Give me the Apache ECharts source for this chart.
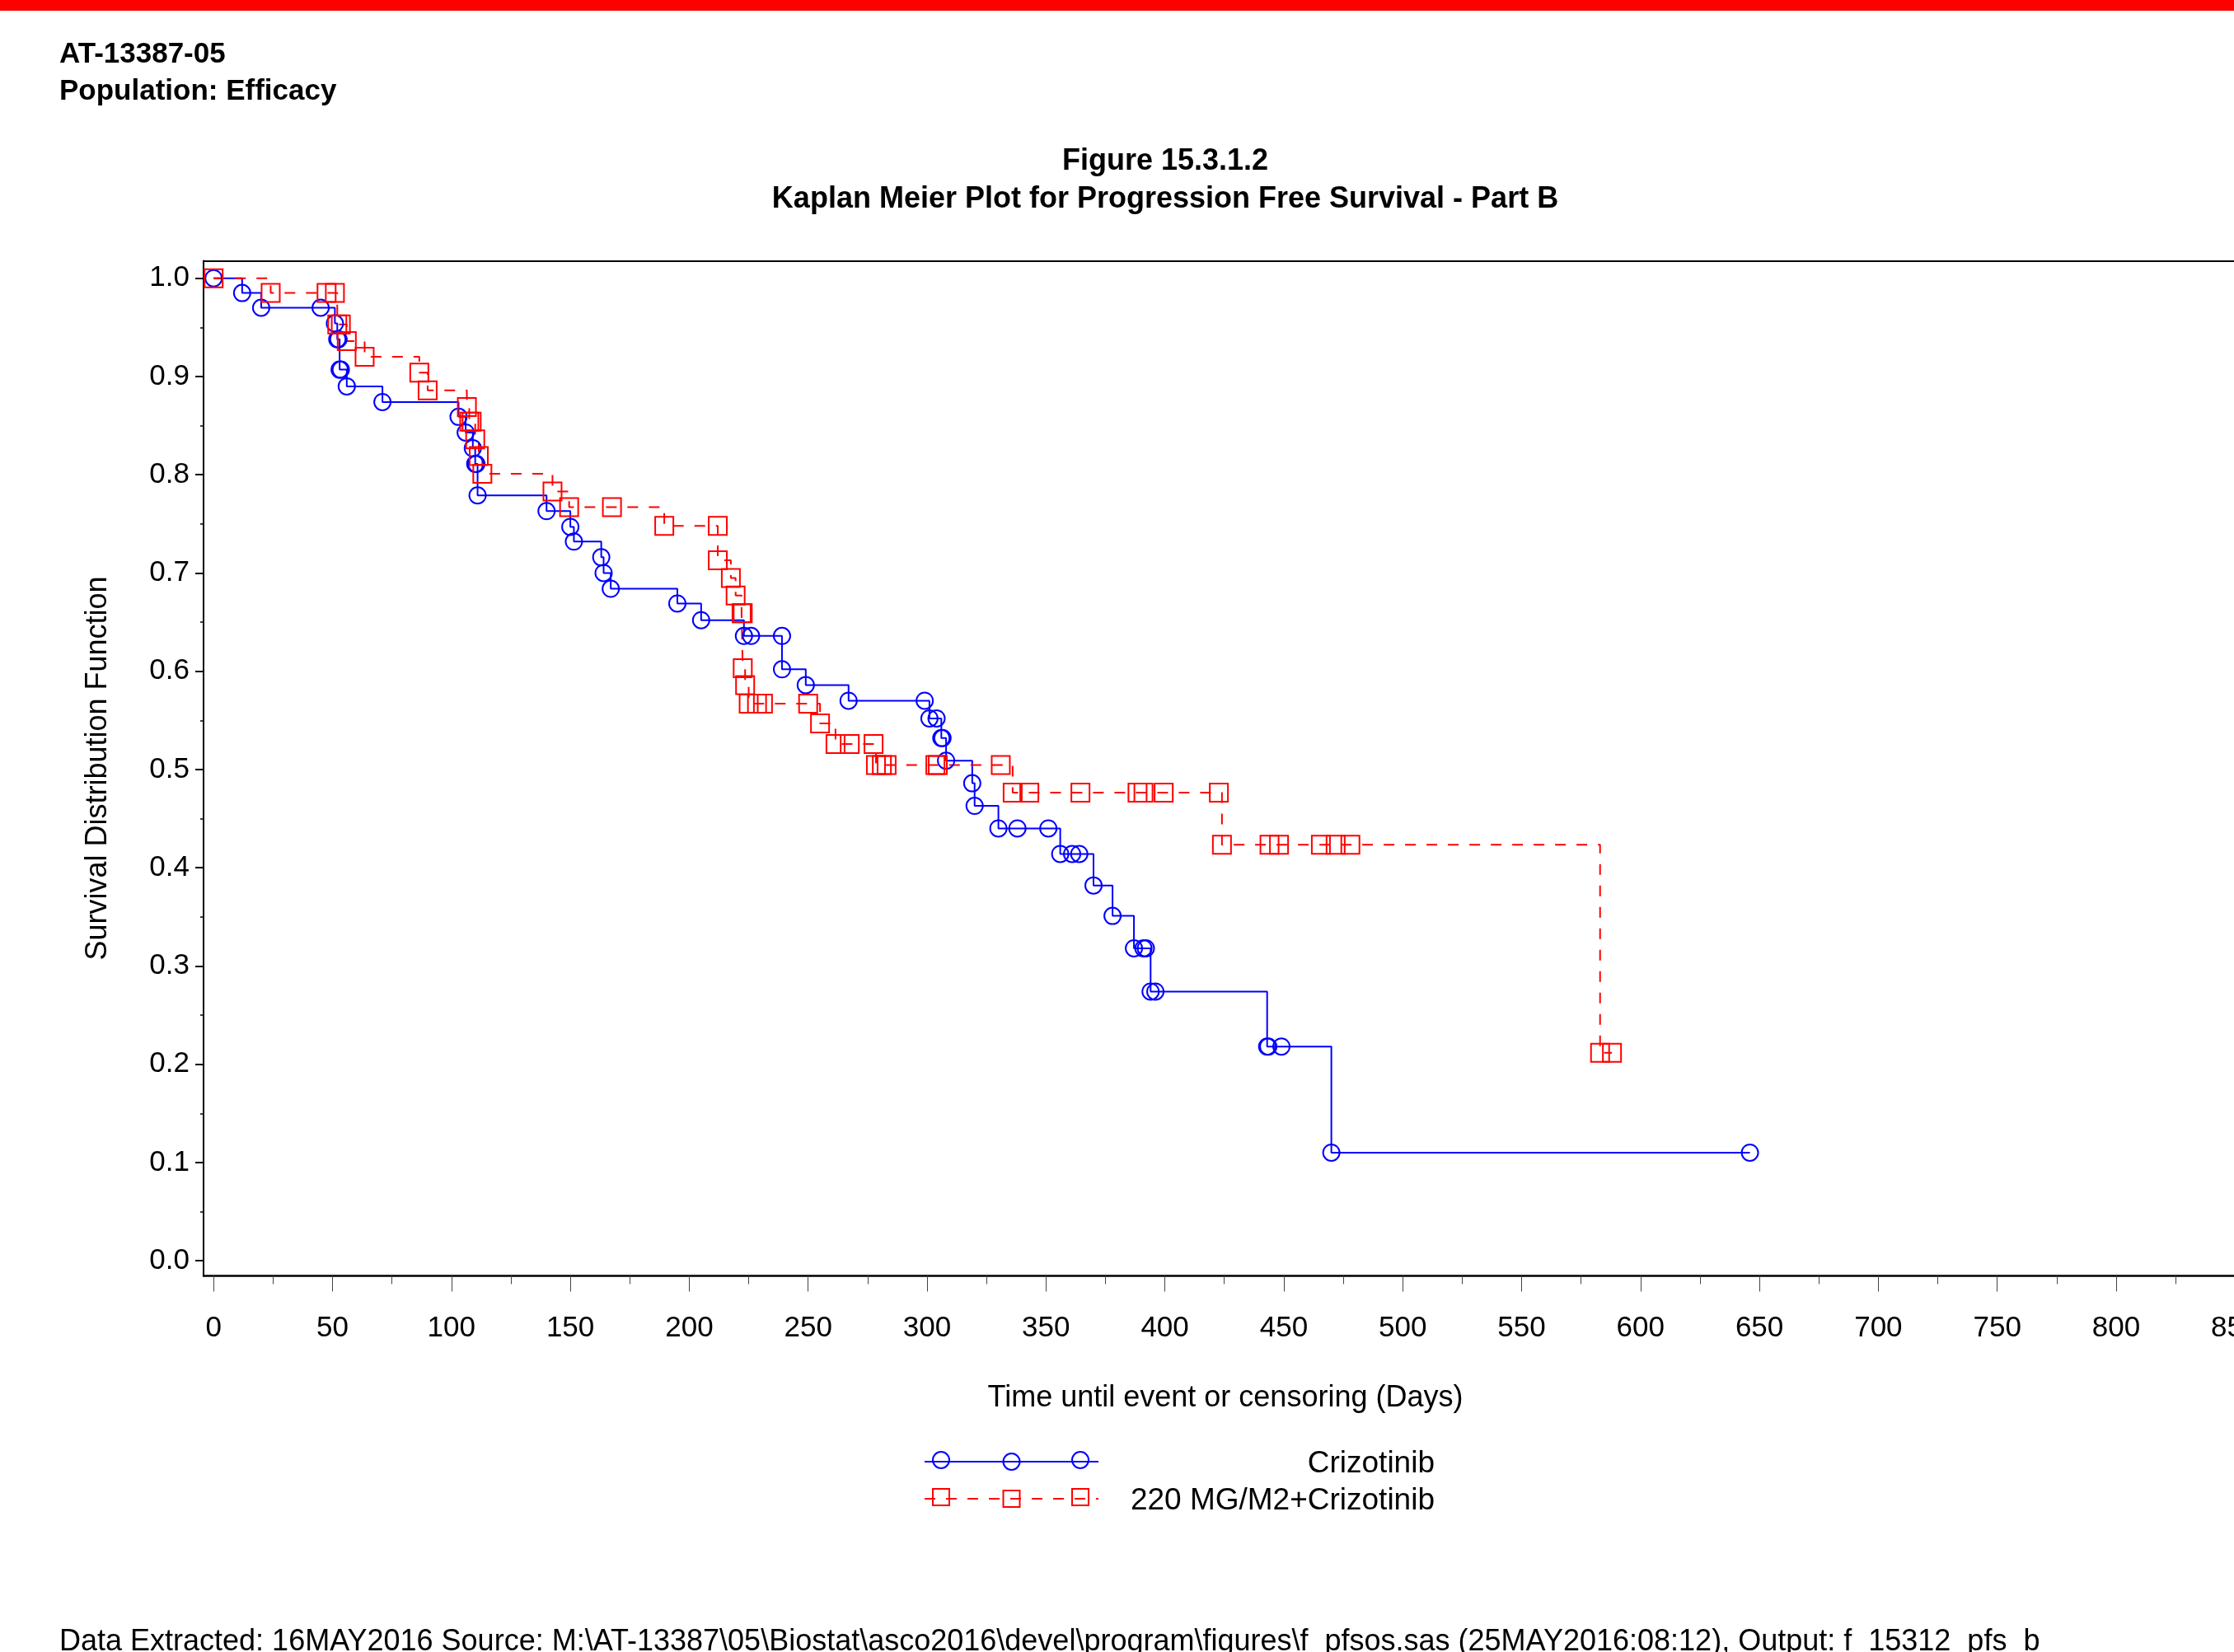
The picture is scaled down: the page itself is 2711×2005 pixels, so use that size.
<!DOCTYPE html>
<html><head><meta charset="utf-8">
<script src="https://cdn.jsdelivr.net/npm/echarts@6/dist/echarts.min.js"></script>
<style>html,body{margin:0;padding:0;background:#fff;}#chart{width:2711px;height:2005px;}</style>
</head><body><div id="chart"></div>
<script>
// ---- data ----
const seriesNames = ['Crizotinib', '220 MG/M2+Crizotinib'];
const crizoTime = [0, 12, 20, 45, 51, 52, 52.5, 53, 53.5, 56, 71, 103, 106, 109, 110, 110.5, 111, 140, 150, 151.5, 163, 164, 167, 195, 205, 223, 226, 239, 239, 249, 267, 299, 301, 304, 306, 306.5, 308, 319, 320, 330, 338, 351, 356, 361, 364, 370, 378, 387, 391, 392, 394, 396, 443, 443.5, 449, 470, 646];
const crizoSurv = [1.000, 0.985, 0.970, 0.970, 0.954, 0.938, 0.938, 0.907, 0.907, 0.890, 0.874, 0.859, 0.843, 0.827, 0.811, 0.811, 0.779, 0.763, 0.747, 0.732, 0.716, 0.700, 0.684, 0.669, 0.652, 0.636, 0.636, 0.636, 0.602, 0.586, 0.570, 0.570, 0.552, 0.552, 0.532, 0.532, 0.509, 0.486, 0.463, 0.440, 0.440, 0.440, 0.414, 0.414, 0.414, 0.382, 0.351, 0.318, 0.318, 0.318, 0.274, 0.274, 0.218, 0.218, 0.218, 0.110, 0.110];
const comboTime = [0, 24, 47.5, 51, 52, 53.5, 56, 63.5, 86.5, 90, 106.5, 107.5, 108.5, 110, 111.5, 113, 142.5, 149.5, 167.5, 189.5, 212, 212, 217.5, 219.5, 222, 222.5, 222.5, 223.5, 225, 228.5, 231, 250, 255, 261.5, 267.5, 277.5, 278.5, 281, 283, 303.5, 304.5, 331, 336, 343, 364.5, 388.5, 391, 399.5, 422.7, 424, 444, 448, 465.6, 471.8, 478, 583, 588];
const comboSurv = [1.000, 0.985, 0.985, 0.985, 0.953, 0.953, 0.936, 0.920, 0.904, 0.886, 0.869, 0.854, 0.854, 0.836, 0.819, 0.801, 0.783, 0.767, 0.767, 0.748, 0.748, 0.713, 0.695, 0.677, 0.659, 0.659, 0.603, 0.586, 0.567, 0.567, 0.567, 0.567, 0.547, 0.526, 0.526, 0.526, 0.5045, 0.5045, 0.5045, 0.5045, 0.5045, 0.5045, 0.4765, 0.4765, 0.4765, 0.4765, 0.4765, 0.4765, 0.4765, 0.4234, 0.4234, 0.4234, 0.4234, 0.4234, 0.4234, 0.2117, 0.2117];
const xTickValues = [0, 50, 100, 150, 200, 250, 300, 350, 400, 450, 500, 550, 600, 650, 700, 750, 800, 850];
const xMinorTickValues = [25, 75, 125, 175, 225, 275, 325, 375, 425, 475, 525, 575, 625, 675, 725, 775, 825];
const yTickValues = [0.0, 0.1, 0.2, 0.3, 0.4, 0.5, 0.6, 0.7, 0.8, 0.9, 1.0];
const yMinorTickValues = [0.05, 0.15, 0.25, 0.35, 0.45, 0.55, 0.65, 0.75, 0.85, 0.95];
const xTitle = 'Time until event or censoring (Days)';
const yTitle = 'Survival Distribution Function';
const headerText = 'AT-13387-05\nPopulation: Efficacy';
const figureTitle = 'Figure 15.3.1.2\nKaplan Meier Plot for Progression Free Survival - Part B';
const footerText = 'Data Extracted: 16MAY2016 Source: M:\\AT-13387\\05\\Biostat\\asco2016\\devel\\program\\figures\\f_pfsos.sas (25MAY2016:08:12), Output: f_15312_pfs_b';

// ---- layout ----
const FONT = 'Liberation Sans, Arial, sans-serif';
const X_MIN = -4.23, X_MAX = 855.1;
const Y_MIN = -0.0154, Y_MAX = 1.0178;
const LEG_LEFT = 1121, LEG_W = 211, LEG_H = 25;
const LEG_ROW_Y = [1772, 1817];      // centre line of each legend row
const LEG_ICON_OFFSET = 19.5;        // measured offset of icon centre below legend top

const zip = (a, b) => a.map((t, i) => [t, b[i]]);

const chart = echarts.init(document.getElementById('chart'), null, {renderer: 'canvas'});
const baseX = {type: 'value', min: X_MIN, max: X_MAX, splitLine: {show: false}};
const baseY = {type: 'value', min: Y_MIN, max: Y_MAX, splitLine: {show: false}};

// extra legend markers (the reference legend repeats each marker three times along the sample line)
const legendExtras = [];
[0, 1].forEach(row => {
  const cy = LEG_ROW_Y[row];
  [LEG_LEFT + 21, LEG_LEFT + LEG_W - 21].forEach(cx => {
    if (row === 0) {
      legendExtras.push({type: 'circle', shape: {cx: cx, cy: cy, r: 10}, style: {fill: 'none', stroke: '#0000ff', lineWidth: 2}});
    } else {
      legendExtras.push({type: 'rect', shape: {x: cx - 10, y: cy - 10, width: 20, height: 20}, style: {fill: 'none', stroke: '#ff0000', lineWidth: 2}});
    }
  });
});

const makeLegend = (row) => ({
  orient: 'vertical', left: LEG_LEFT, top: LEG_ROW_Y[row] - LEG_ICON_OFFSET, padding: 0,
  itemWidth: LEG_W, itemHeight: LEG_H, itemGap: 0,
  data: [seriesNames[row]],
  formatter: n => '{a|' + n + '}',
  textStyle: {fontFamily: FONT, fontSize: 37, lineHeight: 25, color: '#000',
    rich: {a: {width: 403, align: 'right', fontFamily: FONT, fontSize: 37, lineHeight: 25, color: '#000', padding: [6, 0, 0, 0]}}}
});

chart.setOption({
  animation: false,
  backgroundColor: '#ffffff',
  graphic: [{type: 'rect', left: 0, top: 0, shape: {width: 2711, height: 13}, style: {fill: '#ff0000'}}].concat(legendExtras),
  title: [
    {text: headerText, left: 72, top: 44, padding: 0, textStyle: {fontFamily: FONT, fontWeight: 'bold', fontSize: 35, lineHeight: 45, color: '#000'}},
    {text: figureTitle, left: 1414, top: 173, padding: 0, textAlign: 'center', textStyle: {fontFamily: FONT, fontWeight: 'bold', fontSize: 36, lineHeight: 46, color: '#000', align: 'center'}},
    {text: footerText, left: 72, top: 1975, padding: 0, textStyle: {fontFamily: FONT, fontWeight: 'normal', fontSize: 36, lineHeight: 36, color: '#000'}}
  ],
  grid: {left: 247, top: 316.5, width: 2480, height: 1232, containLabel: false, outerBoundsMode: 'none'},
  xAxis: [
    Object.assign({}, baseX, {
      position: 'bottom',
      axisLine: {show: true, onZero: false, lineStyle: {color: '#000', width: 2.5}},
      axisTick: {show: true, customValues: xTickValues, length: 19, lineStyle: {color: '#444', width: 1}},
      axisLabel: {show: true, customValues: xTickValues, margin: 46, fontFamily: FONT, fontSize: 35, color: '#000'},
      name: xTitle, nameLocation: 'middle', nameGap: 131,
      nameTextStyle: {fontFamily: FONT, fontSize: 36, color: '#000'}
    }),
    Object.assign({}, baseX, {
      position: 'bottom',
      axisLine: {show: false, onZero: false},
      axisTick: {show: true, customValues: xMinorTickValues, length: 10, lineStyle: {color: '#444', width: 1}},
      axisLabel: {show: false}
    }),
    Object.assign({}, baseX, {
      position: 'top',
      axisLine: {show: true, onZero: false, lineStyle: {color: '#000', width: 2}},
      axisTick: {show: false}, axisLabel: {show: false}
    })
  ],
  yAxis: [
    Object.assign({}, baseY, {
      position: 'left',
      axisLine: {show: true, onZero: false, lineStyle: {color: '#000', width: 2}},
      axisTick: {show: true, customValues: yTickValues, length: 10, lineStyle: {color: '#000', width: 2}},
      axisLabel: {show: true, customValues: yTickValues, margin: 17, fontFamily: FONT, fontSize: 35, color: '#000',
        formatter: v => Number(v).toFixed(1)},
      name: yTitle, nameLocation: 'middle', nameGap: 110, nameRotate: 90,
      nameTextStyle: {fontFamily: FONT, fontSize: 36, color: '#000'}
    }),
    Object.assign({}, baseY, {
      position: 'left',
      axisLine: {show: false, onZero: false},
      axisTick: {show: true, customValues: yMinorTickValues, length: 4, lineStyle: {color: '#000', width: 1.5}},
      axisLabel: {show: false}
    })
  ],
  legend: [makeLegend(0), makeLegend(1)],
  series: [
    {
      name: seriesNames[0], type: 'line', step: 'end', xAxisIndex: 0, yAxisIndex: 0,
      data: zip(crizoTime, crizoSurv),
      symbol: 'circle', symbolSize: 20, showAllSymbol: true,
      lineStyle: {color: '#0000ff', width: 2, type: 'solid'},
      itemStyle: {color: 'rgba(255,255,255,0)', borderColor: '#0000ff', borderWidth: 2},
      emphasis: {disabled: true}
    },
    {
      name: seriesNames[1], type: 'line', step: 'end', xAxisIndex: 0, yAxisIndex: 0,
      data: zip(comboTime, comboSurv),
      symbol: 'rect', symbolSize: 22, showAllSymbol: true,
      lineStyle: {color: '#ff0000', width: 2, type: [13, 13]},
      itemStyle: {color: 'rgba(255,255,255,0)', borderColor: '#ff0000', borderWidth: 2},
      emphasis: {disabled: true}
    }
  ]
});
</script>
</body></html>
